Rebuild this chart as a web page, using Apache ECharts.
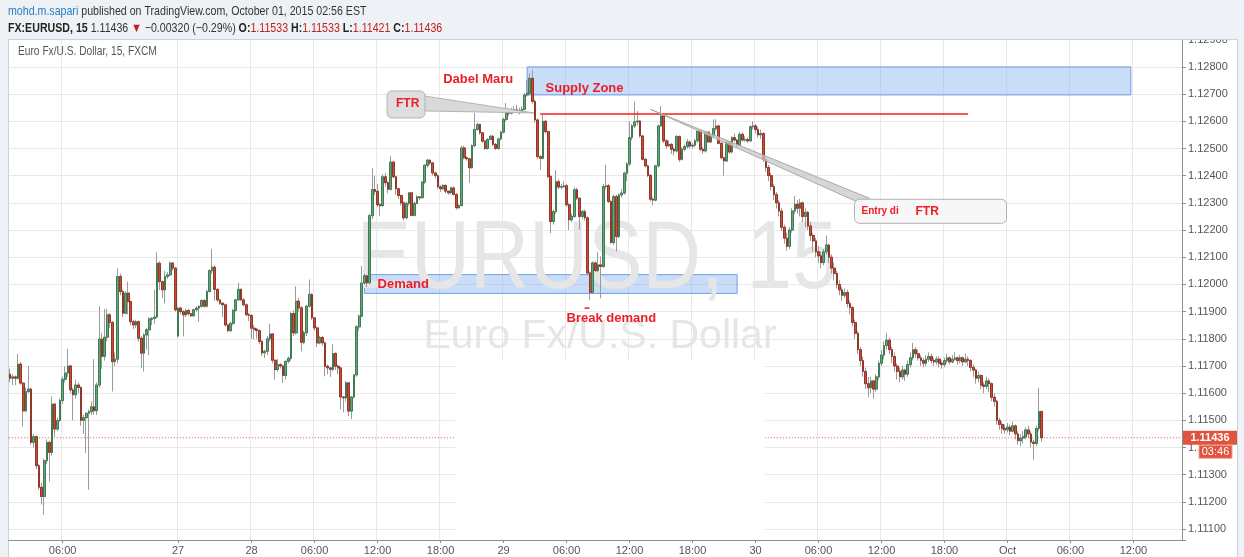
<!DOCTYPE html>
<html>
<head>
<meta charset="utf-8">
<script src="https://cdn.jsdelivr.net/npm/echarts@6/dist/echarts.min.js"></script>
<style>
  html, body { margin: 0; padding: 0; background: #eef1f5; }
  #main { width: 1244px; height: 557px; }
</style>
</head>
<body>
<div id="main"></div>
<script>
// FX:EURUSD 15 min candles, each row [open, close, low, high]
const candles = [
  [1.1167,1.11655,1.1164,1.1169],[1.11655,1.1166,1.1163,1.1167],[1.1166,1.11655,1.1163,1.11665],[1.11655,1.11707,1.1165,1.11745],
  [1.11707,1.11637,1.1163,1.11715],[1.11637,1.11535,1.11477,1.1164],[1.11535,1.11606,1.1153,1.1162],[1.11606,1.11615,1.116,1.117],
  [1.11615,1.11419,1.1141,1.1162],[1.11419,1.1144,1.114,1.1145],[1.1144,1.11333,1.1132,1.11445],[1.11333,1.11254,1.11245,1.1134],
  [1.11254,1.1122,1.1119,1.1127],[1.1122,1.11352,1.11153,1.1136],[1.11352,1.11419,1.1134,1.1143],[1.11419,1.11382,1.11275,1.11425],
  [1.11382,1.1156,1.1137,1.11588],[1.1156,1.11468,1.1144,1.11565],[1.11468,1.115,1.1146,1.1151],[1.115,1.11573,1.11495,1.1158],
  [1.11573,1.11651,1.1156,1.1166],[1.11651,1.11674,1.1164,1.11699],[1.11674,1.117,1.1166,1.11763],[1.117,1.11612,1.116,1.11705],
  [1.11612,1.11594,1.115,1.1162],[1.11594,1.1163,1.1158,1.1165],[1.1163,1.11621,1.116,1.1164],[1.11621,1.115,1.1148,1.11625],
  [1.115,1.1151,1.1145,1.1152],[1.1151,1.11526,1.1138,1.1153],[1.11526,1.11532,1.11245,1.1154],[1.11532,1.1155,1.1152,1.1157],
  [1.1155,1.11535,1.1152,1.11725],[1.11535,1.1163,1.1152,1.1164],[1.1163,1.11799,1.1162,1.1192],[1.11799,1.11735,1.1169,1.1182],
  [1.11735,1.11806,1.1172,1.1191],[1.11806,1.11888,1.1179,1.1191],[1.11888,1.1186,1.1184,1.11895],[1.1186,1.11716,1.11606,1.11865],
  [1.11716,1.11725,1.117,1.1175],[1.11725,1.12029,1.1171,1.12059],[1.12029,1.11974,1.1196,1.1204],[1.11974,1.11894,1.1188,1.1198],
  [1.11894,1.11968,1.1189,1.11975],[1.11968,1.11937,1.1189,1.1201],[1.11937,1.11863,1.1185,1.1194],[1.11863,1.11851,1.11835,1.1187],
  [1.11851,1.11863,1.1184,1.1187],[1.11863,1.11802,1.1179,1.11868],[1.11802,1.11747,1.11692,1.1181],[1.11747,1.11814,1.1168,1.1182],
  [1.11814,1.11833,1.1176,1.1184],[1.11833,1.11872,1.1174,1.1188],[1.11872,1.11875,1.1185,1.1188],[1.11875,1.1188,1.11855,1.1198],
  [1.1188,1.12078,1.11875,1.12118],[1.12078,1.1201,1.1198,1.12085],[1.1201,1.1198,1.1195,1.12015],[1.1198,1.12029,1.1193,1.1205],
  [1.12029,1.12035,1.1202,1.12045],[1.12035,1.12078,1.1203,1.12085],[1.12078,1.1206,1.1205,1.12083],[1.1206,1.11906,1.119,1.12065],
  [1.1181,1.11913,1.11805,1.11915],[1.11913,1.119,1.1189,1.11918],[1.119,1.11888,1.11809,1.11905],[1.11888,1.11904,1.1188,1.1191],
  [1.11904,1.11892,1.11885,1.1191],[1.11892,1.11885,1.1188,1.11895],[1.11885,1.11907,1.1188,1.1191],[1.11907,1.11913,1.119,1.1192],
  [1.11913,1.11919,1.11862,1.11925],[1.11919,1.11941,1.11915,1.11945],[1.11941,1.1192,1.11915,1.11945],[1.1192,1.11974,1.11915,1.1198],
  [1.11974,1.12051,1.1197,1.12055],[1.12051,1.12063,1.1204,1.1213],[1.12063,1.11982,1.1194,1.1207],[1.11982,1.11943,1.11935,1.11985],
  [1.11943,1.11931,1.11925,1.11945],[1.11931,1.11925,1.1188,1.11935],[1.11925,1.11851,1.11845,1.1193],[1.11851,1.1183,1.11825,1.11855],
  [1.1183,1.11857,1.11825,1.1186],[1.11857,1.11904,1.1185,1.1191],[1.11904,1.11943,1.119,1.11948],[1.11943,1.11982,1.1194,1.12007],
  [1.11982,1.11943,1.1194,1.11985],[1.11943,1.11925,1.1192,1.1195],[1.11925,1.11888,1.11885,1.1193],[1.11888,1.11886,1.11865,1.11895],
  [1.11886,1.11839,1.118,1.1189],[1.11839,1.11835,1.11797,1.1185],[1.11835,1.1183,1.118,1.1184],[1.1183,1.1179,1.1178,1.11835],
  [1.1179,1.11748,1.11736,1.11795],[1.11748,1.11754,1.1173,1.1176],[1.11754,1.118,1.1174,1.1181],[1.118,1.11818,1.1179,1.11856],
  [1.11818,1.11721,1.1171,1.1182],[1.11721,1.11687,1.1165,1.11725],[1.11687,1.11705,1.1168,1.11725],[1.11705,1.117,1.1169,1.1171],
  [1.117,1.11665,1.11638,1.11705],[1.11665,1.11717,1.1165,1.1172],[1.11717,1.11728,1.1171,1.11735],[1.11728,1.11893,1.1172,1.119],
  [1.11893,1.11822,1.1181,1.11905],[1.11822,1.11938,1.11815,1.11993],[1.11938,1.11914,1.119,1.1195],[1.11914,1.11787,1.11754,1.1192],
  [1.11787,1.11822,1.1178,1.1183],[1.11822,1.1192,1.1181,1.11925],[1.1192,1.11963,1.11915,1.12018],[1.11963,1.11877,1.1187,1.11968],
  [1.11877,1.1184,1.1183,1.1188],[1.1184,1.11785,1.1177,1.11845],[1.11785,1.11805,1.1178,1.1181],[1.11805,1.11785,1.11775,1.1181],
  [1.11785,1.11699,1.11662,1.1179],[1.11699,1.11693,1.1167,1.11705],[1.11693,1.11688,1.1166,1.11695],[1.11688,1.11746,1.1168,1.1178],
  [1.11746,1.11699,1.11685,1.1175],[1.11699,1.11693,1.1167,1.11705],[1.11693,1.11586,1.1154,1.11696],[1.11586,1.11583,1.1153,1.1159],
  [1.11583,1.11638,1.1157,1.11645],[1.11638,1.11534,1.11516,1.1164],[1.11534,1.11586,1.11505,1.1159],[1.11586,1.11667,1.1158,1.1167],
  [1.11667,1.11844,1.1166,1.1185],[1.11844,1.11883,1.1183,1.1189],[1.11883,1.12005,1.1188,1.12067],[1.12005,1.12032,1.12,1.1204],
  [1.12032,1.12006,1.1199,1.12035],[1.12006,1.12253,1.12,1.1226],[1.12253,1.12349,1.1224,1.12428],[1.12349,1.12342,1.1233,1.124],
  [1.12342,1.12293,1.12285,1.1237],[1.12293,1.1229,1.12251,1.123],[1.1229,1.12396,1.12285,1.12405],[1.12396,1.12374,1.1236,1.1241],
  [1.12374,1.1235,1.12335,1.1238],[1.1235,1.1245,1.12345,1.12472],[1.1245,1.12396,1.1239,1.12455],[1.12396,1.12352,1.1233,1.124],
  [1.12352,1.12327,1.12315,1.12355],[1.12327,1.123,1.1229,1.1233],[1.123,1.12245,1.12235,1.12305],[1.12245,1.12298,1.1224,1.12305],
  [1.12298,1.12337,1.1229,1.1234],[1.12337,1.12254,1.1225,1.1234],[1.12254,1.12298,1.1225,1.12305],[1.12298,1.12322,1.12295,1.12328],
  [1.12322,1.12319,1.1231,1.12325],[1.12319,1.12376,1.12315,1.1238],[1.12376,1.12438,1.1237,1.12442],[1.12438,1.12457,1.1243,1.12462],
  [1.12457,1.12447,1.1244,1.1246],[1.12447,1.1241,1.124,1.1245],[1.1241,1.124,1.1239,1.12415],[1.124,1.12359,1.1235,1.12405],
  [1.12359,1.12352,1.1234,1.12365],[1.12352,1.12364,1.12348,1.1237],[1.12364,1.12343,1.12335,1.12368],[1.12343,1.12337,1.1233,1.12345],
  [1.12337,1.12355,1.12332,1.1236],[1.12355,1.12331,1.12328,1.1236],[1.12331,1.12282,1.12275,1.12335],[1.12282,1.1229,1.12278,1.12295],
  [1.1229,1.12502,1.12288,1.1251],[1.12502,1.12466,1.1246,1.1251],[1.12466,1.12462,1.12455,1.1247],[1.12462,1.12429,1.12374,1.12465],
  [1.12429,1.1251,1.12425,1.12515],[1.1251,1.1257,1.12505,1.12631],[1.1257,1.12588,1.12565,1.12595],[1.12588,1.12558,1.1255,1.12592],
  [1.12558,1.12527,1.1252,1.1256],[1.12527,1.125,1.12495,1.1253],[1.125,1.12533,1.12495,1.12538],[1.12533,1.12545,1.1253,1.1255],
  [1.12545,1.12515,1.1251,1.1255],[1.12515,1.125,1.12495,1.1252],[1.125,1.12535,1.12495,1.1254],[1.12535,1.1256,1.1253,1.12565],
  [1.1256,1.12607,1.12555,1.12613],[1.12607,1.12642,1.126,1.12667],[1.12642,1.1263,1.1262,1.12648],[1.1263,1.1264,1.12625,1.1265],
  [1.1264,1.12642,1.1263,1.12655],[1.12642,1.1264,1.1263,1.1266],[1.1264,1.12636,1.12625,1.1265],[1.12636,1.12644,1.1263,1.12655],
  [1.12644,1.12697,1.1264,1.12705],[1.12697,1.12703,1.1269,1.12752],[1.12703,1.12758,1.127,1.12777],[1.12758,1.12673,1.12665,1.12789],
  [1.12673,1.12605,1.12595,1.1268],[1.12605,1.1247,1.1246,1.1261],[1.1247,1.12464,1.12421,1.12475],[1.12464,1.126,1.1246,1.12624],
  [1.126,1.12562,1.12555,1.12605],[1.12562,1.12397,1.1239,1.12565],[1.12397,1.12231,1.12188,1.12403],[1.12231,1.12268,1.1222,1.12275],
  [1.12268,1.12378,1.1226,1.1242],[1.12378,1.12358,1.1235,1.12385],[1.12358,1.1236,1.1235,1.1237],[1.1236,1.12363,1.12355,1.1238],
  [1.12363,1.12293,1.12285,1.1237],[1.12293,1.12238,1.122,1.123],[1.12238,1.1225,1.1223,1.1226],[1.1225,1.12348,1.12245,1.12355],
  [1.12348,1.12317,1.1231,1.12355],[1.12317,1.1225,1.12201,1.1232],[1.1225,1.12268,1.1224,1.12275],[1.12268,1.12245,1.12235,1.12275],
  [1.12245,1.12042,1.12035,1.1225],[1.12042,1.11971,1.11943,1.12048],[1.11971,1.12079,1.11965,1.12085],[1.12079,1.12051,1.12045,1.12085],
  [1.12051,1.12072,1.12045,1.1212],[1.12072,1.12066,1.11949,1.12103],[1.12066,1.1236,1.1206,1.1237],[1.1236,1.12363,1.1235,1.1244],
  [1.12363,1.12305,1.123,1.1237],[1.12305,1.12154,1.1215,1.1231],[1.12154,1.12323,1.12145,1.1233],[1.12323,1.12176,1.12121,1.1233],
  [1.12176,1.12329,1.1217,1.12335],[1.12329,1.12336,1.1232,1.1235],[1.12336,1.12409,1.1233,1.12415],[1.12409,1.12443,1.1238,1.1245],
  [1.12443,1.1254,1.12435,1.126],[1.1254,1.12583,1.1253,1.1259],[1.12583,1.12598,1.12575,1.12672],[1.12598,1.12601,1.12585,1.12638],
  [1.12601,1.12546,1.1254,1.12605],[1.12546,1.1246,1.12455,1.1255],[1.1246,1.12436,1.1243,1.12465],[1.12436,1.12401,1.12395,1.1244],
  [1.12401,1.12313,1.12305,1.12405],[1.12313,1.1231,1.12291,1.1232],[1.1231,1.12436,1.12305,1.1244],[1.12436,1.12583,1.1243,1.12588],
  [1.12583,1.1262,1.1258,1.12656],[1.1262,1.12528,1.1252,1.1263],[1.12528,1.1251,1.125,1.12535],[1.1251,1.12515,1.12505,1.1253],
  [1.12515,1.12497,1.1248,1.1252],[1.12497,1.12491,1.12475,1.12505],[1.12491,1.12544,1.12485,1.1255],[1.12544,1.1246,1.1245,1.12548],
  [1.1246,1.12497,1.12455,1.12505],[1.12497,1.12507,1.1249,1.12515],[1.12507,1.12524,1.125,1.12535],[1.12524,1.12509,1.125,1.1253],
  [1.12509,1.12512,1.125,1.1252],[1.12512,1.12528,1.12505,1.12535],[1.12528,1.12564,1.1252,1.1257],[1.12564,1.12497,1.1249,1.1257],
  [1.12497,1.12491,1.1248,1.12505],[1.12491,1.1256,1.12485,1.12565],[1.1256,1.12524,1.1252,1.12565],[1.12524,1.12546,1.1252,1.1255],
  [1.12546,1.12573,1.1254,1.12607],[1.12573,1.12583,1.12565,1.12607],[1.12583,1.12519,1.12515,1.12588],[1.12519,1.12466,1.1246,1.12523],
  [1.12466,1.12454,1.124,1.1247],[1.12454,1.12524,1.1245,1.1253],[1.12524,1.12487,1.1248,1.12528],[1.12487,1.1254,1.12482,1.12545],
  [1.1254,1.12531,1.12525,1.12555],[1.12531,1.12512,1.12505,1.12535],[1.12512,1.12552,1.12508,1.1256],[1.12552,1.12531,1.12525,1.12558],
  [1.12531,1.12533,1.12525,1.12545],[1.12533,1.12528,1.1252,1.1254],[1.12528,1.1258,1.12525,1.12585],[1.1258,1.12583,1.1257,1.126],
  [1.12583,1.1257,1.12555,1.1259],[1.1257,1.1255,1.1254,1.1258],[1.1255,1.12555,1.12535,1.1257],[1.12555,1.1246,1.1245,1.1256],
  [1.1246,1.1243,1.12415,1.1247],[1.1243,1.124,1.1238,1.1244],[1.124,1.1236,1.12345,1.1241],[1.1236,1.1233,1.1231,1.1237],
  [1.1233,1.123,1.1228,1.1234],[1.123,1.1227,1.1225,1.1231],[1.1227,1.1221,1.12195,1.1228],[1.1221,1.1217,1.1215,1.1222],
  [1.1217,1.1214,1.12125,1.1219],[1.1214,1.122,1.1213,1.1221],[1.122,1.1227,1.1219,1.1228],[1.1227,1.12295,1.1226,1.12325],
  [1.12295,1.1228,1.1226,1.1231],[1.1228,1.123,1.1225,1.12315],[1.123,1.1225,1.1223,1.12305],[1.1225,1.12265,1.1221,1.1228],
  [1.12265,1.12215,1.122,1.1227],[1.12215,1.1218,1.1216,1.1223],[1.1218,1.1216,1.1212,1.1219],[1.1216,1.1212,1.121,1.1217],
  [1.1212,1.12105,1.1208,1.1214],[1.12105,1.1208,1.1206,1.1212],[1.1208,1.1212,1.1207,1.1213],[1.1212,1.12145,1.1211,1.1218],
  [1.12145,1.121,1.1208,1.1215],[1.121,1.1206,1.1204,1.1211],[1.1206,1.1204,1.12015,1.1208],[1.1204,1.12,1.11985,1.1205],
  [1.12,1.1198,1.1196,1.12015],[1.1198,1.1196,1.1194,1.1199],[1.1196,1.1197,1.1195,1.11985],[1.1197,1.1193,1.11915,1.1198],
  [1.1193,1.11915,1.1189,1.1194],[1.11915,1.1186,1.11845,1.1192],[1.1186,1.1182,1.118,1.1187],[1.1182,1.1176,1.11745,1.1183],
  [1.1176,1.1172,1.117,1.1177],[1.1172,1.1168,1.1166,1.11735],[1.1168,1.11635,1.11615,1.11695],[1.11635,1.1162,1.11585,1.1166],
  [1.1162,1.11645,1.116,1.1166],[1.11645,1.11615,1.1158,1.1165],[1.11615,1.1166,1.11605,1.1167],[1.1166,1.1171,1.1165,1.1172],
  [1.1171,1.1174,1.117,1.1176],[1.1174,1.11775,1.11725,1.1179],[1.11775,1.11795,1.1176,1.1182],[1.11795,1.1176,1.11745,1.11805],
  [1.1176,1.11735,1.1171,1.1177],[1.11735,1.117,1.1168,1.1175],[1.117,1.1168,1.1165,1.1171],[1.1168,1.1166,1.1164,1.11695],
  [1.1166,1.11685,1.1165,1.117],[1.11685,1.1167,1.11645,1.1169],[1.1167,1.11705,1.1166,1.1172],[1.11705,1.1173,1.11695,1.1175],
  [1.1173,1.1176,1.1172,1.11785],[1.1176,1.11745,1.1173,1.1177],[1.11745,1.1173,1.1172,1.1176],[1.1173,1.1172,1.117,1.1174],
  [1.1172,1.1171,1.11695,1.1173],[1.1171,1.11725,1.117,1.1174],[1.11725,1.11735,1.11715,1.1175],[1.11735,1.1172,1.1171,1.11745],
  [1.1172,1.11715,1.117,1.1173],[1.11715,1.11725,1.11705,1.11735],[1.11725,1.1171,1.11695,1.11735],[1.1171,1.11705,1.1169,1.1172],
  [1.11705,1.1172,1.11695,1.1173],[1.1172,1.1173,1.1171,1.11745],[1.1173,1.11715,1.11705,1.11735],[1.11715,1.11725,1.1171,1.1174],
  [1.11725,1.1173,1.1172,1.1175],[1.1173,1.1172,1.11705,1.11735],[1.1172,1.1173,1.1171,1.1174],[1.1173,1.11715,1.117,1.11735],
  [1.11715,1.11725,1.1171,1.11745],[1.11725,1.1172,1.117,1.11735],[1.1172,1.11695,1.1168,1.11725],[1.11695,1.11685,1.1166,1.11705],
  [1.11685,1.11655,1.11635,1.1169],[1.11655,1.11665,1.1164,1.1168],[1.11665,1.1163,1.11615,1.1167],[1.1163,1.11625,1.116,1.1164],
  [1.11625,1.11645,1.11615,1.1166],[1.11645,1.11635,1.11605,1.11655],[1.11635,1.11585,1.1157,1.1164],[1.11585,1.1157,1.1155,1.116],
  [1.1157,1.115,1.11485,1.11575],[1.115,1.11485,1.11465,1.1151],[1.11485,1.1147,1.1145,1.11495],[1.1147,1.11465,1.1145,1.11485],
  [1.11465,1.11475,1.11455,1.1149],[1.11475,1.1146,1.11445,1.11485],[1.1146,1.1148,1.11455,1.11495],[1.1148,1.1145,1.1143,1.11485],
  [1.1145,1.11425,1.1141,1.1146],[1.11425,1.11435,1.11405,1.1145],[1.11435,1.1144,1.11415,1.1146],[1.1144,1.11465,1.1143,1.11475],
  [1.11465,1.1145,1.11435,1.1148],[1.1145,1.1142,1.114,1.1146],[1.1142,1.11415,1.11355,1.1143],[1.11415,1.1147,1.11405,1.1148],
  [1.1147,1.11533,1.1146,1.1162],[1.11533,1.11436,1.11421,1.11533]
];

// time scale: bar slots (incl. empty space on the right) and the labelled ones
const slotCount = 447;
const tickIndex = [20, 64, 92, 116, 140, 164, 188, 212, 236, 260, 284, 308, 332, 356, 380, 404, 428];
const tickText = ['06:00', '27', '28', '06:00', '12:00', '18:00', '29', '06:00', '12:00', '18:00', '30', '06:00', '12:00', '18:00', 'Oct', '06:00', '12:00'];

// drawings on the chart, [bar index, price]
const supplyZone = [[197, 1.12800], [427, 1.12697]];
const demandZone = [[135, 1.12036], [277, 1.11967]];
const ftrLine = [[202, 1.12627], [365, 1.12627]];
const lastPrice = 1.11436;

const FONT = "'Liberation Sans', Arial, sans-serif";
const RED = '#ee1c25';

const slots = [];
for (let i = 0; i < slotCount; i++) slots.push(String(i));
const showTick = (index) => tickIndex.indexOf(index) >= 0;
const bodies = candles.map(([o, c]) => [o, c, Math.min(o, c), Math.max(o, c)]);

const chart = echarts.init(document.getElementById('main'));

const option = {
    backgroundColor: '#eef1f5',
    animation: false,
    grid: { left: 8.8, right: 62, top: 37, bottom: 17 },
    xAxis: {
        type: 'category',
        data: slots,
        boundaryGap: true,
        axisLine: { lineStyle: { color: '#8d8d8d' } },
        axisTick: { show: true, alignWithLabel: true, length: 3, interval: showTick, lineStyle: { color: '#8d8d8d' } },
        axisLabel: {
            interval: showTick,
            formatter: (v, i) => tickText[tickIndex.indexOf(i)],
            color: '#555', fontSize: 11, fontFamily: FONT, margin: 5
        },
        splitLine: { show: true, interval: showTick, lineStyle: { color: '#e9e9e9' } }
    },
    yAxis: {
        type: 'value',
        position: 'right',
        min: 1.1106,
        max: 1.1291,
        splitNumber: 18,
        minInterval: 0.001,
        maxInterval: 0.001,
        axisLine: { show: true, lineStyle: { color: '#8d8d8d' } },
        axisTick: { show: true, length: 4, lineStyle: { color: '#8d8d8d' } },
        axisLabel: {
            color: '#555', fontSize: 11, fontFamily: FONT, margin: 6,
            formatter: v => (Math.abs(v * 1000 - Math.round(v * 1000)) < 1e-6 ? v.toFixed(5) : '')
        },
        splitLine: { lineStyle: { color: '#e9e9e9' } }
    },
    series: [
        {   // wicks
            type: 'candlestick',
            data: candles,
            barWidth: 2.2,
            silent: true,
            itemStyle: {
                color: 'transparent', color0: 'transparent',
                borderColor: '#9b9b9b', borderColor0: '#9b9b9b', borderWidth: 1
            }
        },
        {   // bodies
            type: 'candlestick',
            data: bodies,
            barWidth: 2.2,
            silent: true,
            itemStyle: {
                color: '#5fa878', color0: '#cf4a35',
                borderColor: '#357049', borderColor0: '#86291b', borderWidth: 0.8
            },
            markArea: {
                silent: true,
                itemStyle: { color: 'rgba(130,175,238,0.43)', borderColor: '#6f9fe6', borderWidth: 1 },
                data: [
                    [{ coord: supplyZone[0] }, { coord: supplyZone[1] }],
                    [{ coord: demandZone[0] }, { coord: demandZone[1] }]
                ]
            },
            markLine: {
                silent: true,
                symbol: 'none',
                label: { show: false },
                lineStyle: { color: '#ff1a1a', width: 1.5, type: 'solid' },
                data: [[{ coord: ftrLine[0] }, { coord: ftrLine[1] }]]
            }
        }
    ]
};
chart.setOption(option);

// overlays placed from data coordinates
const at = (i, v) => chart.convertToPixel({ gridIndex: 0 }, [i, v]);
const yLast = at(0, lastPrice)[1];
const plotL = at(0, lastPrice)[0] - 1.3, plotR = 1182;
const ftr = at(200, 1.12627);
const entry = at(244, 1.12644);
const supplyTxt = at(204, 1.12722);
const demandTxt = at(140, 1.12001);
const dabelTxt = at(165, 1.12754);
const breakTxt = at(212, 1.11876);

const redText = (p, text, size) => ({
    type: 'text', z: 6,
    style: { x: p[0], y: p[1], text, fill: RED, font: 'bold ' + size + 'px ' + FONT, verticalAlign: 'middle' }
});

chart.setOption({
    graphic: [
        // page panel
        { type: 'rect', z: -1, shape: { x: 8.5, y: 36.5, width: 1229, height: 521 }, style: { fill: '#fff', stroke: '#cdd2d9' } },
        // watermark
        { type: 'text', z: 1, x: 597, y: 262, scaleX: 0.85,
          style: { x: 0, y: 0, text: 'EURUSD, 15', fill: '#e6e6e6', font: '96px ' + FONT, align: 'center', verticalAlign: 'middle' } },
        { type: 'text', z: 1, x: 600, y: 337,
          style: { x: 0, y: 0, text: 'Euro Fx/U.S. Dollar', fill: '#e6e6e6', font: '41px ' + FONT, align: 'center', verticalAlign: 'middle' } },
        // last price dotted line
        { type: 'line', z: 1, shape: { x1: plotL, y1: yLast, x2: plotR, y2: yLast }, style: { stroke: '#e0533f', lineWidth: 1, lineDash: [1, 2] } },
        // blank patch under the watermark
        { type: 'rect', z: 1, z2: 5, shape: { x: 455, y: 360, width: 310, height: 179 }, style: { fill: '#fff' } },
        // header band, also clipping the top price label
        { type: 'rect', z: 10, shape: { x: 0, y: 0, width: 1244, height: 39 }, style: { fill: '#eef1f5' } },
        { type: 'line', z: 10, shape: { x1: 8, y1: 39.5, x2: 1238, y2: 39.5 }, style: { stroke: '#cdd2d9' } },
        { type: 'text', z: 11, x: 8, y: 12, scaleX: 0.85,
          style: {
              x: 0, y: 0, verticalAlign: 'middle',
              text: '{u|mohd.m.sapari} published on TradingView.com, October 01, 2015 02:56 EST',
              font: '12.5px ' + FONT, fill: '#333',
              rich: { u: { fill: '#2a7bc1', font: '12.5px ' + FONT } }
          } },
        { type: 'text', z: 11, x: 8, y: 29, scaleX: 0.85,
          style: {
              x: 0, y: 0, verticalAlign: 'middle',
              text: '{b|FX:EURUSD, 15} 1.11436 {r|▼} −0.00320 (−0.29%) {b|O:}{r|1.11533} {b|H:}{r|1.11533} {b|L:}{r|1.11421} {b|C:}{r|1.11436}',
              font: '12.5px ' + FONT, fill: '#333',
              rich: {
                  b: { font: 'bold 12.5px ' + FONT, fill: '#222' },
                  r: { font: '12.5px ' + FONT, fill: '#c0221b' }
              }
          } },
        { type: 'text', z: 6, x: 18, y: 52, scaleX: 0.85,
          style: { x: 0, y: 0, text: 'Euro Fx/U.S. Dollar, 15, FXCM', font: '12px ' + FONT, fill: '#555', verticalAlign: 'middle' } },
        // FTR callout
        { type: 'polygon', z: 5,
          shape: { points: [[ftr[0] - 111, ftr[1] - 18], [ftr[0] - 1, ftr[1] - 1], [ftr[0] - 111, ftr[1] - 3]] },
          style: { fill: '#d9d9d9', stroke: '#b3b3b3' } },
        { type: 'rect', z: 5, shape: { x: ftr[0] - 148, y: ftr[1] - 23, width: 38, height: 27, r: 5 },
          style: { fill: '#dedede', stroke: '#b3b3b3' } },
        redText([ftr[0] - 139, ftr[1] - 10], 'FTR', 12),
        // Entry callout
        { type: 'polygon', z: 5,
          shape: { points: [[entry[0], entry[1]], [entry[0] + 219, entry[1] + 89], [entry[0] + 210, entry[1] + 94]] },
          style: { fill: 'rgba(200,200,200,0.75)', stroke: '#aaaaaa' } },
        { type: 'rect', z: 5, shape: { x: entry[0] + 204, y: entry[1] + 90, width: 152, height: 24, r: 5 },
          style: { fill: '#f7f7f7', stroke: '#b3b3b3' } },
        redText([entry[0] + 211, entry[1] + 102], 'Entry di', 10),
        redText([entry[0] + 265, entry[1] + 102], 'FTR', 12),
        // zone and swing labels
        redText(supplyTxt, 'Supply Zone', 13),
        redText(demandTxt, 'Demand', 13),
        redText(dabelTxt, 'Dabel Maru', 13),
        redText(breakTxt, 'Break demand', 13),
        { type: 'line', z: 6, shape: { x1: breakTxt[0] + 18, y1: breakTxt[1] - 10, x2: breakTxt[0] + 23, y2: breakTxt[1] - 10 },
          style: { stroke: RED, lineWidth: 1.5 } },
        // last price tags on the price scale
        { type: 'rect', z: 12, shape: { x: 1183, y: yLast - 7, width: 54, height: 14 }, style: { fill: '#e0533f' } },
        { type: 'text', z: 13,
          style: { x: 1210, y: yLast, text: '1.11436', fill: '#fff', font: 'bold 11px ' + FONT, align: 'center', verticalAlign: 'middle' } },
        { type: 'rect', z: 12, shape: { x: 1199, y: yLast + 7.5, width: 33, height: 13 }, style: { fill: '#e0533f', stroke: '#f4a093' } },
        { type: 'text', z: 13,
          style: { x: 1215.5, y: yLast + 14, text: '03:46', fill: '#fff', font: '11px ' + FONT, align: 'center', verticalAlign: 'middle' } }
    ]
});
</script>
</body>
</html>
